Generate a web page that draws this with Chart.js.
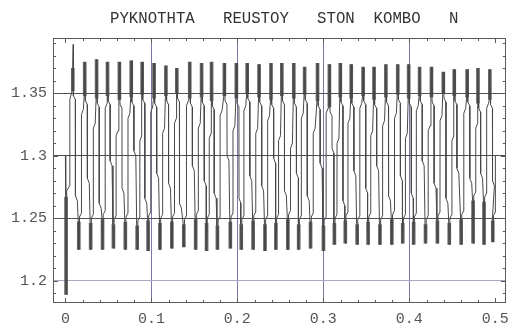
<!DOCTYPE html>
<html>
<head>
<meta charset="utf-8">
<script src="https://cdn.jsdelivr.net/npm/chart.js@4.4.1/dist/chart.umd.min.js"></script>
<style>
  html, body { margin: 0; padding: 0; background: #ffffff; }
  #wrap { width: 516px; height: 325px; }
</style>
</head>
<body>
<div id="wrap"><canvas id="c" width="516" height="325"></canvas></div>
<script>
// Title and axis ticks
const titleText = 'PYKNOTHTA   REUSTOY   STON  KOMBO   N';
const xTicks = [0, 0.1, 0.2, 0.3, 0.4, 0.5];
const yTicks = [1.2, 1.25, 1.3, 1.35];

// Start-up transient before the first crest
const onsetX = [0.0000, 0.0004, 0.0008, 0.0012, 0.0018, 0.0050, 0.0052, 0.0078, 0.0086, 0.0092];
const onsetY = [1.300, 1.268, 1.189, 1.262, 1.272, 1.276, 1.345, 1.352, 1.372, 1.389];
const onsetBarX = [0.0008];
const onsetBarLo = [1.189];
const onsetBarHi = [1.267];

// Crests: position, upper and lower end of the dense band
const peakX = [0.0086, 0.0225, 0.0363, 0.0490, 0.0628, 0.0766, 0.0893, 0.1031, 0.1169, 0.1296,
               0.1446, 0.1584, 0.1700, 0.1849, 0.1988, 0.2114, 0.2252, 0.2391, 0.2517, 0.2656,
               0.2782, 0.2932, 0.3070, 0.3197, 0.3324, 0.3462, 0.3589, 0.3727, 0.3865, 0.3992,
               0.4119, 0.4257, 0.4395, 0.4522, 0.4672, 0.4798, 0.4936];
const peakHi = [1.370, 1.375, 1.377, 1.375, 1.375, 1.376, 1.375, 1.374, 1.372, 1.370,
                1.375, 1.374, 1.375, 1.374, 1.374, 1.374, 1.373, 1.374, 1.374, 1.374,
                1.371, 1.374, 1.373, 1.374, 1.373, 1.371, 1.371, 1.373, 1.373, 1.373,
                1.371, 1.371, 1.367, 1.369, 1.369, 1.370, 1.369];
const peakLo = [1.352, 1.348, 1.346, 1.348, 1.345, 1.347, 1.349, 1.346, 1.348, 1.350,
                1.346, 1.347, 1.344, 1.348, 1.346, 1.350, 1.347, 1.345, 1.348, 1.346,
                1.349, 1.344, 1.339, 1.347, 1.346, 1.348, 1.345, 1.347, 1.349, 1.346,
                1.348, 1.347, 1.350, 1.348, 1.347, 1.342, 1.345];

// Troughs: position, lower and upper end of the dense band
const troughX = [0.0156, 0.0294, 0.0432, 0.0559, 0.0697, 0.0835, 0.0962, 0.1100, 0.1238, 0.1377,
                 0.1515, 0.1642, 0.1768, 0.1918, 0.2045, 0.2183, 0.2321, 0.2448, 0.2587, 0.2713,
                 0.2851, 0.3001, 0.3128, 0.3255, 0.3393, 0.3520, 0.3658, 0.3796, 0.3923, 0.4050,
                 0.4188, 0.4326, 0.4464, 0.4602, 0.4741, 0.4868, 0.4970];
const troughLo = [1.225, 1.225, 1.225, 1.226, 1.225, 1.225, 1.224, 1.225, 1.226, 1.227,
                  1.225, 1.224, 1.225, 1.226, 1.225, 1.225, 1.224, 1.225, 1.225, 1.225,
                  1.226, 1.224, 1.229, 1.230, 1.229, 1.229, 1.229, 1.229, 1.230, 1.229,
                  1.230, 1.230, 1.229, 1.229, 1.230, 1.229, 1.231];
const troughHi = [1.247, 1.246, 1.249, 1.245, 1.247, 1.244, 1.248, 1.246, 1.247, 1.245,
                  1.249, 1.246, 1.244, 1.247, 1.245, 1.248, 1.245, 1.246, 1.249, 1.245,
                  1.247, 1.244, 1.246, 1.248, 1.245, 1.247, 1.245, 1.249, 1.246, 1.247,
                  1.245, 1.248, 1.246, 1.249, 1.264, 1.263, 1.248];

// Level where each falling stroke jogs sideways before its trough
const fallBend = [1.268, 1.282, 1.262, 1.296, 1.274, 1.304, 1.266, 1.286, 1.278, 1.262,
                  1.292, 1.280, 1.270, 1.300, 1.266, 1.284, 1.276, 1.298, 1.272, 1.286,
                  1.268, 1.294, 1.306, 1.264, 1.288, 1.274, 1.292, 1.268, 1.284, 1.270,
                  1.296, 1.278, 1.266, 1.290, 1.282, 1.286, 1.280];
// Level where each rising stroke jogs sideways before the next crest
const riseBend = [1.333, 1.322, 1.338, 1.316, 1.330, 1.312, 1.335, 1.318, 1.326, 1.340,
                  1.322, 1.314, 1.332, 1.320, 1.336, 1.318, 1.328, 1.312, 1.306, 1.330,
                  1.318, 1.334, 1.310, 1.326, 1.338, 1.316, 1.324, 1.330, 1.314, 1.336,
                  1.320, 1.328, 1.312, 1.334, 1.322, 1.338, 1.330];
const endX = [0.5000];
const endY = [1.300];

// Build the trace: onset, then crest -> fall -> trough -> rise for every cycle
const trace = onsetX.map((x, i) => ({ x, y: onsetY[i] }));
const n = peakX.length;
for (let i = 0; i < n; i++) {
  const px = peakX[i], tx = troughX[i];
  if (i > 0) {
    trace.push({ x: px - 0.0006, y: peakLo[i] });
    trace.push({ x: px, y: peakHi[i] });
  }
  // falling stroke: short jog under the crest, long vertical run, jog into the trough
  trace.push({ x: px + 0.0006, y: peakLo[i] });
  trace.push({ x: px + 0.0008, y: peakLo[i] - 0.004 });
  trace.push({ x: px + 0.0030, y: peakLo[i] - 0.007 });
  trace.push({ x: px + 0.0031, y: fallBend[i] });
  trace.push({ x: px + 0.0053, y: fallBend[i] - 0.004 });
  trace.push({ x: tx - 0.0006, y: troughHi[i] });
  trace.push({ x: tx, y: troughLo[i] });
  trace.push({ x: tx + 0.0006, y: troughHi[i] });
  // rising stroke
  trace.push({ x: tx + 0.0008, y: troughHi[i] + 0.004 });
  trace.push({ x: tx + 0.0030, y: troughHi[i] + 0.007 });
  if (i < n - 1) {
    trace.push({ x: tx + 0.0031, y: riseBend[i] });
    trace.push({ x: tx + 0.0053, y: riseBend[i] + 0.004 });
  }
}
endX.forEach((x, i) => trace.push({ x, y: endY[i] }));

// Dense bands at crests and troughs as floating bars
const bands = [];
onsetBarX.forEach((x, i) => bands.push({ x, y: [onsetBarLo[i], onsetBarHi[i]] }));
peakX.forEach((x, i) => bands.push({ x, y: [peakLo[i], peakHi[i]] }));
troughX.forEach((x, i) => bands.push({ x, y: [troughLo[i], troughHi[i]] }));

// Frame with inward ticks, plus the title
const frameTicks = {
  id: 'frameTicks',
  afterDatasetsDraw(chart) {
    const { ctx, chartArea: a, scales: { x, y } } = chart;
    ctx.save();
    ctx.strokeStyle = '#5a5a5a';
    ctx.lineWidth = 1;
    ctx.strokeRect(Math.round(a.left) + 0.5, Math.round(a.top) + 0.5,
                   Math.round(a.right - a.left) - 1, Math.round(a.bottom - a.top) - 1);
    ctx.beginPath();
    for (let k = -1; k <= 26; k++) {
      const v = k * 0.02;
      if (v < x.min || v > x.max) continue;
      const p = Math.round(x.getPixelForValue(v)) + 0.5;
      const len = k % 5 === 0 ? 5 : 3;
      ctx.moveTo(p, a.top); ctx.lineTo(p, a.top + len);
      ctx.moveTo(p, a.bottom); ctx.lineTo(p, a.bottom - len);
    }
    for (let k = 118; k <= 140; k++) {
      const v = k / 100;
      if (v < y.min || v > y.max) continue;
      const p = Math.round(y.getPixelForValue(v)) + 0.5;
      const len = k % 5 === 0 ? 5 : 3;
      ctx.moveTo(a.left, p); ctx.lineTo(a.left + len, p);
      ctx.moveTo(a.right, p); ctx.lineTo(a.right - len, p);
    }
    ctx.stroke();
    ctx.fillStyle = '#333333';
    ctx.font = '15.7px "Liberation Mono", "DejaVu Sans Mono", monospace';
    ctx.textAlign = 'left';
    ctx.textBaseline = 'alphabetic';
    ctx.fillText(titleText, a.left + 57, 23);
    ctx.restore();
  }
};

const tickFont = { family: '"Liberation Mono", "DejaVu Sans Mono", monospace', size: 15 };

new Chart(document.getElementById('c'), {
  type: 'line',
  data: {
    datasets: [
      {
        type: 'bar',
        data: bands,
        backgroundColor: 'rgba(70,70,70,0.85)',
        borderWidth: 0,
        barThickness: 3,
        grouped: false,
        order: 1
      },
      {
        type: 'line',
        data: trace,
        borderColor: '#484848',
        borderWidth: 1,
        pointRadius: 0,
        tension: 0,
        fill: false,
        order: 2
      }
    ]
  },
  options: {
    responsive: false,
    animation: false,
    devicePixelRatio: 1,
    layout: { padding: { top: 38, right: 6, left: 0, bottom: 0 } },
    plugins: { legend: { display: false }, tooltip: { enabled: false }, title: { display: false } },
    scales: {
      x: {
        type: 'linear',
        min: -0.0144,
        max: 0.5121,
        offset: false,
        afterBuildTicks: s => { s.ticks = xTicks.map(v => ({ value: v })); },
        afterFit: s => { s.height = 22; },
        border: { display: false },
        grid: {
          drawTicks: false,
          offset: false,
          lineWidth: 1,
          color: c => (c.tick && (c.tick.value === 0 || c.tick.value === 0.5)) ? 'rgba(0,0,0,0)' : '#7a7aaa'
        },
        ticks: {
          padding: 7,
          color: '#555555',
          font: tickFont,
          maxRotation: 0,
          autoSkip: false,
          callback: v => String(v)
        }
      },
      y: {
        type: 'linear',
        min: 1.1822,
        max: 1.3942,
        afterBuildTicks: s => { s.ticks = yTicks.map(v => ({ value: v })); },
        afterFit: s => { s.width = 53; },
        border: { display: false },
        grid: {
          drawTicks: false,
          lineWidth: 1,
          color: c => (c.tick && c.tick.value === 1.2) ? '#a8a8c0' : '#4e4e5c'
        },
        ticks: {
          padding: 6,
          color: '#555555',
          font: tickFont,
          autoSkip: false,
          callback: v => String(v)
        }
      }
    }
  },
  plugins: [frameTicks]
});
</script>
</body>
</html>
